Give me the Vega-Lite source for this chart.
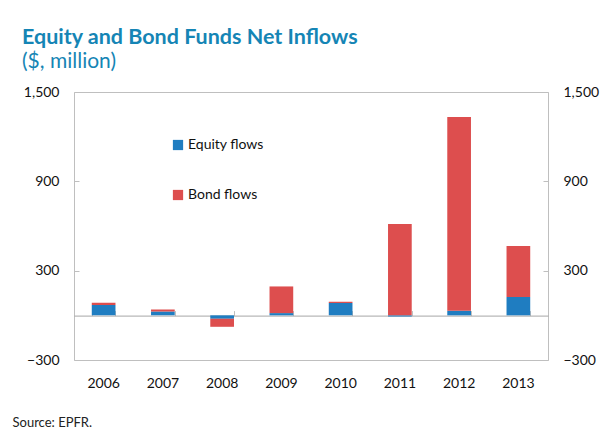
{
  "$schema": "https://vega.github.io/schema/vega-lite/v6.json",
  "width": 474,
  "height": 268,
  "autosize": {"type": "none"},
  "padding": {"left": 74, "top": 92, "right": 52, "bottom": 69},
  "background": "white",
  "title": {
    "text": "Equity and Bond Funds Net Inflows",
    "subtitle": "($, million)",
    "anchor": "start",
    "frame": "group",
    "dx": -52,
    "offset": 13,
    "font": "Lato",
    "fontSize": 21.5,
    "fontWeight": "bold",
    "color": "#1585b5",
    "subtitleFont": "Lato",
    "subtitleFontSize": 21,
    "subtitleColor": "#1585b5",
    "subtitlePadding": 3
  },
  "data": {
    "values": [
      {"year": "2006", "type": "Equity flows", "ord": 1, "value": 69},
      {"year": "2006", "type": "Bond flows", "ord": 2, "value": 16},
      {"year": "2007", "type": "Equity flows", "ord": 1, "value": 26},
      {"year": "2007", "type": "Bond flows", "ord": 2, "value": 14},
      {"year": "2008", "type": "Equity flows", "ord": 1, "value": -23},
      {"year": "2008", "type": "Bond flows", "ord": 2, "value": -54},
      {"year": "2009", "type": "Equity flows", "ord": 1, "value": 15},
      {"year": "2009", "type": "Bond flows", "ord": 2, "value": 179},
      {"year": "2010", "type": "Equity flows", "ord": 1, "value": 83},
      {"year": "2010", "type": "Bond flows", "ord": 2, "value": 8},
      {"year": "2011", "type": "Equity flows", "ord": 1, "value": -8},
      {"year": "2011", "type": "Bond flows", "ord": 2, "value": 613},
      {"year": "2012", "type": "Equity flows", "ord": 1, "value": 31},
      {"year": "2012", "type": "Bond flows", "ord": 2, "value": 1301},
      {"year": "2013", "type": "Equity flows", "ord": 1, "value": 123},
      {"year": "2013", "type": "Bond flows", "ord": 2, "value": 342}
    ]
  },
  "layer": [
    {
      "mark": {"type": "bar", "stroke": null},
      "encoding": {
        "x": {
          "field": "year",
          "type": "nominal",
          "scale": {"paddingInner": 0.6, "paddingOuter": 0.3},
          "axis": {
            "orient": "bottom",
            "title": "Source: EPFR.",
            "titleX": -62,
            "titleY": 66,
            "titleAlign": "left",
            "titleBaseline": "alphabetic",
            "titleFont": "Lato",
            "titleFontSize": 13,
            "titleFontWeight": "normal",
            "titleColor": "#222222",
            "labelAngle": 0,
            "labelFont": "Lato",
            "labelFontSize": 14,
            "labelColor": "#111111",
            "labelPadding": 16,
            "ticks": false,
            "domain": false
          }
        },
        "y": {
          "field": "value",
          "type": "quantitative",
          "stack": "zero",
          "scale": {"domain": [-300, 1500], "nice": false, "zero": false},
          "axis": {
            "orient": "left",
            "title": null,
            "values": [-300, 300, 900, 1500],
            "format": ",d",
            "grid": false,
            "domain": false,
            "tickSize": -5,
            "tickColor": "#bfbfbf",
            "labelPadding": 20,
            "labelFont": "Lato",
            "labelFontSize": 14,
            "labelColor": "#111111"
          }
        },
        "color": {
          "field": "type",
          "type": "nominal",
          "scale": {"domain": ["Equity flows", "Bond flows"], "range": ["#1f7dc1", "#dd4e4e"]},
          "legend": {
            "orient": "none",
            "legendX": 97,
            "legendY": 46,
            "title": null,
            "symbolType": "square",
            "symbolSize": 105,
            "symbolStrokeWidth": 0,
            "labelFont": "Lato",
            "labelFontSize": 14,
            "labelColor": "#111111",
            "rowPadding": 36,
            "padding": 0,
            "labelOffset": 3
          }
        },
        "order": {"field": "ord", "type": "quantitative"}
      }
    },
    {
      "mark": {"type": "bar", "opacity": 0},
      "encoding": {
        "x": {
          "field": "year",
          "type": "nominal",
          "axis": {
            "orient": "top",
            "title": null,
            "labels": false,
            "offset": -223.6,
            "tickBand": "extent",
            "tickSize": 5,
            "tickColor": "#bfbfbf",
            "domain": true,
            "domainColor": "#a6a6a6",
            "domainWidth": 1
          }
        },
        "y": {
          "datum": 0,
          "type": "quantitative",
          "axis": {
            "orient": "right",
            "title": null,
            "values": [-300, 300, 900, 1500],
            "format": ",d",
            "grid": false,
            "domain": false,
            "tickSize": -5,
            "tickColor": "#bfbfbf",
            "labelPadding": 20,
            "labelFont": "Lato",
            "labelFontSize": 14,
            "labelColor": "#111111"
          }
        }
      }
    }
  ],
  "resolve": {"axis": {"x": "independent", "y": "independent"}},
  "config": {
    "view": {"stroke": "#bfbfbf", "strokeWidth": 1}
  }
}
